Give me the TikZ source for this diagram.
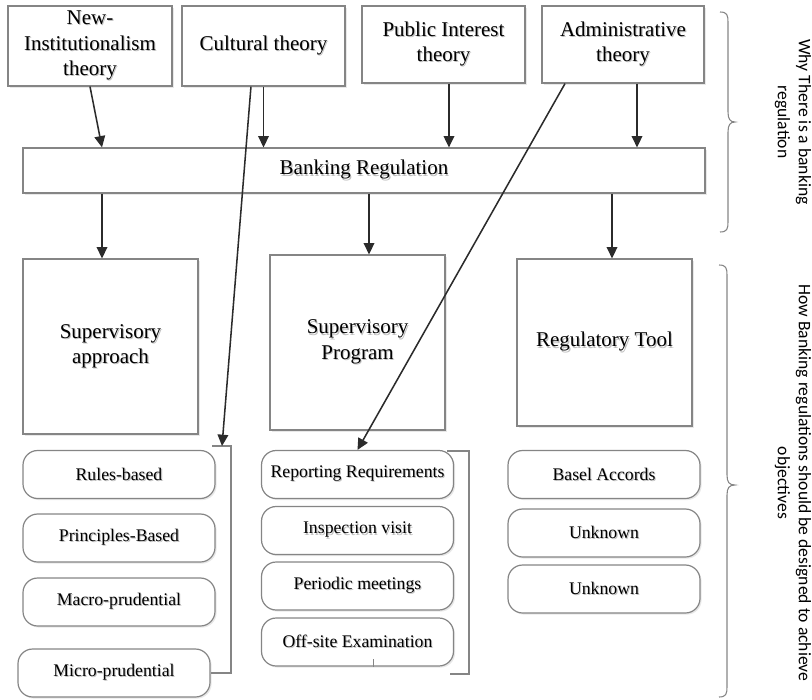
\documentclass[tikz,border=0pt]{standalone}
\usepackage{fontspec}
\setmainfont{Liberation Serif}
\newfontfamily\sidefont{Carlito}
\usetikzlibrary{arrows.meta,shadows}
\definecolor{boxgray}{HTML}{858585}
\definecolor{arrowc}{HTML}{2B2B2B}
\newcommand\shl[1]{\leavevmode\rlap{\kern0.8pt\raisebox{-0.8pt}{\textcolor{black!25}{#1}}}#1}
\begin{document}
\begin{tikzpicture}[x=0.75pt,y=-0.75pt,
 box/.style={draw=boxgray, line width=0.9pt, fill=white, inner sep=0pt, font=\fontsize{15.75}{19}\selectfont, align=center,
   drop shadow={shadow xshift=1.2pt, shadow yshift=-1.2pt, fill=black!30, opacity=0.3}},
 rbox/.style={box, rounded corners=11pt, minimum width=144pt, minimum height=36pt, font=\fontsize{13.3}{16}\selectfont},
 arr/.style={draw=arrowc, line width=1.15pt, -{Triangle[length=8.5pt,width=8pt]}},
 brk/.style={draw=boxgray, line width=0.8pt},
 side/.style={font=\sidefont\fontsize{13.2}{15.75}\selectfont, align=center, rotate=-90, text=black}]
\useasboundingbox (0,0) rectangle (812,699);

% top theories
\node[box, minimum width=123pt, minimum height=60pt] (ni) at (90,46) {\shl{New-}\\\shl{Institutionalism}\\\shl{theory}};
\node[box, minimum width=122.25pt, minimum height=60pt] (cult) at (263.5,46) {\shl{Cultural theory}};
\node[box, minimum width=122.25pt, minimum height=57.75pt] (pub) at (443.5,44.5) {\shl{Public Interest}\\\shl{theory}};
\node[box, minimum width=121.5pt, minimum height=57.75pt] (adm) at (623,44.5) {\shl{Administrative}\\\shl{theory}};

% banking regulation
\node[box, minimum width=511.5pt, minimum height=33.75pt] (br) at (364,170.5) {\shl{Banking Regulation}};

% middle boxes
\node[box, minimum width=131.25pt, minimum height=131.25pt] (sa) at (110.5,346.5) {\shl{Supervisory}\\\shl{approach}};
\node[box, minimum width=131.25pt, minimum height=131.25pt] (sp) at (357.5,342.5) {\shl{Supervisory}\\\shl{Program}};
\node[box, minimum width=131.25pt, minimum height=125.25pt] (rt) at (604.5,342.5) {\shl{Regulatory Tool}};

% column 1
\node[rbox] (rules) at (119,474.5) {\shl{Rules-based}};
\node[rbox] (princ) at (119,538) {\shl{Principles-Based}};
\node[rbox] (macro) at (119,602) {\shl{Macro-prudential}};
\node[rbox] (micro) at (114,673) {\shl{Micro-prudential}};

% column 2
\node[rbox] (rep) at (357.5,474.5) {\shl{Reporting Requirements}};
\node[rbox] (insp) at (357.5,530.5) {\shl{Inspection visit}};
\node[rbox] (peri) at (357.5,586) {\shl{Periodic meetings}};
\node[rbox] (off) at (357.5,642) {\shl{Off-site Examination}};

% column 3
\node[rbox] (basel) at (604,474.5) {\shl{Basel Accords}};
\node[rbox] (unk1) at (604,533) {\shl{Unknown}};
\node[rbox] (unk2) at (604,589) {\shl{Unknown}};

% brackets
\coordinate (b1c) at (231,446);
\coordinate (b1t) at (212,446);
\coordinate (b1a) at (222,446);
\draw[brk] (micro.east) -| (b1c) -- (b1t);
\coordinate (b2t) at (447,451);
\coordinate (b2a) at (469,451);
\coordinate (b2b) at (469,674);
\coordinate (b2e) at (450,674);
\draw[brk] (b2t) -- (b2a) -- (b2b) -- (b2e);
\draw[brk, line width=0.6pt] ([xshift=11.6pt]off.south) -- ++(0,-8);

% arrows theories -> banking regulation
\draw[arr] (ni.south) -- (102,0 |- br.north);
\draw[arr] (cult.south) -- (cult.south |- br.north);
\draw[arr] ([xshift=4.1pt]pub.south) -- ([xshift=4.1pt]pub.south |- br.north);
\draw[arr] ([xshift=10.5pt]adm.south) -- ([xshift=10.5pt]adm.south |- br.north);

% long arrows
\draw[arr] ([xshift=-9.4pt]cult.south) -- (b1a);
\draw[arr] ([xshift=-43.5pt]adm.south) -- (rep.north);

% banking regulation -> middle
\draw[arr] (102,0 |- br.south) -- (102,0 |- sa.north);
\draw[arr] (369,0 |- br.south) -- (369,0 |- sp.north);
\draw[arr] (612,0 |- br.south) -- (612,0 |- rt.north);

% braces
\draw[brk] (720,12) .. controls (727,12) and (728,15) .. (728,22) -- (728,112)
  .. controls (728,119) and (730,122) .. (735,122)
  .. controls (730,122) and (728,125) .. (728,132) -- (728,222)
  .. controls (728,229) and (727,232) .. (720,232);
\draw[brk] (719,265) .. controls (726,265) and (727,268) .. (727,275) -- (727,475)
  .. controls (727,482) and (729,485) .. (735,485)
  .. controls (729,485) and (727,488) .. (727,495) -- (727,687)
  .. controls (727,694) and (726,697) .. (719,697);

\node[side] (why) at (793,122) {Why There is a banking\\regulation};
\node[side] (how) at (793,483) {How Banking regulations should be designed to achieve\\objectives};
\end{tikzpicture}
\end{document}
